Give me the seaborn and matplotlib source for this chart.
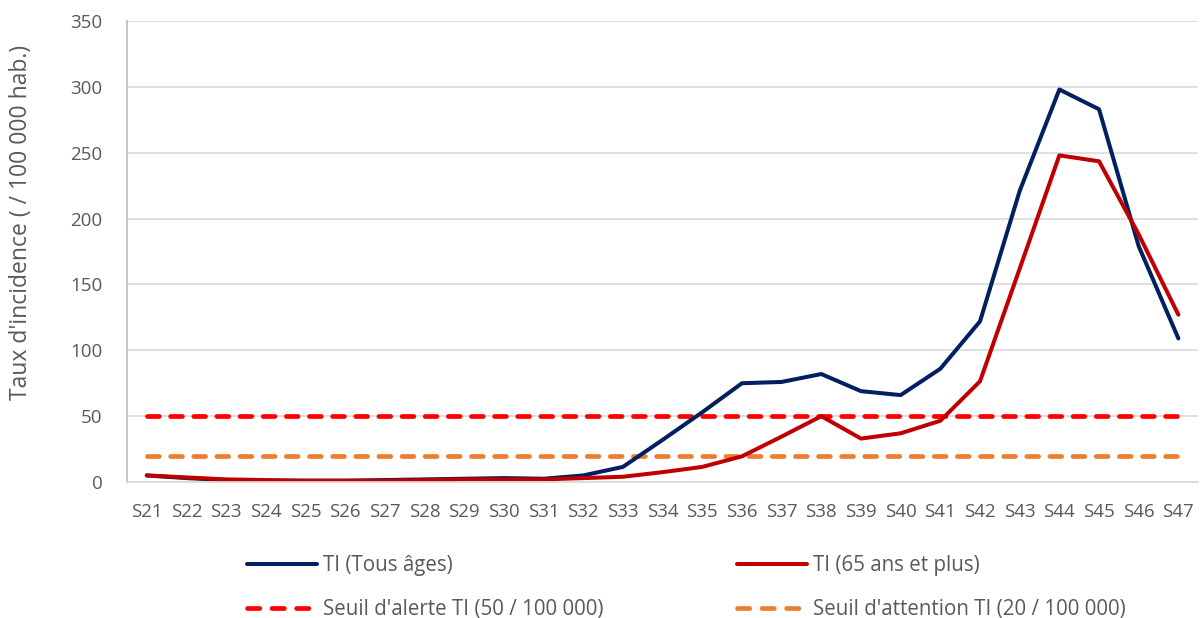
import matplotlib
matplotlib.use("Agg")

import matplotlib.pyplot as plt
import seaborn as sns
import pandas as pd

# semaines S21 -> S47
semaines = [f"S{i}" for i in range(21, 48)]

ti_tous = [5, 3, 1.5, 1, 1, 1, 1.5, 2, 2.5, 3, 2.5, 5, 11.5,
           32, 53, 75, 76, 82, 69, 66, 86, 122, 221, 298, 283, 179, 109]
ti_65 = [5, 3.5, 2, 1.5, 1, 1, 1, 1.5, 2, 2, 2, 3, 4,
         7.5, 11.5, 19.5, 34.5, 50, 33, 37, 46.5, 76.5, 162, 248, 243.5, 188, 127]
seuil_alerte = [50] * len(semaines)
seuil_attention = [20] * len(semaines)

df = pd.DataFrame({
    "semaine": semaines,
    "tous": ti_tous,
    "s65": ti_65,
    "alerte": seuil_alerte,
    "attention": seuil_attention,
})

sns.set_theme(style="white")
plt.rcParams["font.family"] = ["Open Sans", "DejaVu Sans"]

GRIS = "#595959"

fig = plt.figure(figsize=(12.01, 6.18), dpi=100)
ax = fig.add_axes([0.1057, 0.22, 0.892, 0.746])

sns.lineplot(data=df, x="semaine", y="alerte", ax=ax, color="#FF0000", lw=3.4,
             label="Seuil d'alerte TI (50 / 100 000)")
sns.lineplot(data=df, x="semaine", y="attention", ax=ax, color="#ED7D31", lw=3.4,
             label="Seuil d'attention TI (20 / 100 000)")
sns.lineplot(data=df, x="semaine", y="tous", ax=ax, color="#002060", lw=2.9,
             label="TI (Tous âges)")
sns.lineplot(data=df, x="semaine", y="s65", ax=ax, color="#C00000", lw=2.9,
             label="TI (65 ans et plus)")

# pointillés arrondis façon Excel
for ln in ax.lines[:2]:
    ln.set_dashes([2.5, 2.4])
    ln.set_dash_capstyle("round")

ax.set_xlim(-0.5, len(semaines) - 0.5)
ax.set_ylim(0, 350)
ax.set_yticks(range(0, 351, 50))
ax.grid(axis="y", color="#D9D9D9", lw=1.2)
ax.set_axisbelow(True)

for s in ["top", "right"]:
    ax.spines[s].set_visible(False)
ax.spines["left"].set_color("#BFBFBF")
ax.spines["bottom"].set_color("#D9D9D9")

ax.tick_params(axis="both", labelsize=13.5, colors=GRIS, length=0)
ax.tick_params(axis="y", pad=17.5)
ax.tick_params(axis="x", pad=15)
ax.set_xlabel("")
ax.set_ylabel("Taux d'incidence ( / 100 000 hab.)", fontsize=16.5, color=GRIS)
ax.yaxis.set_label_coords(-0.0878, 0.564)

handles, labels = ax.get_legend_handles_labels()
ax.get_legend().remove()
order = [2, 0, 3, 1]
leg = fig.legend([handles[i] for i in order], [labels[i] for i in order],
                 loc="upper left", bbox_to_anchor=(0.197, 0.118), ncol=2, frameon=False,
                 fontsize=14.8, labelcolor=GRIS, handlelength=3.4, handletextpad=0.3,
                 columnspacing=6.5, labelspacing=1.1, borderpad=0)
# trois tirets dans les symboles de légende
for ln in leg.get_lines():
    if ln.get_linestyle() != "-":
        ln.set_dashes([2.6, 2.6])

fig.savefig("out.png", dpi=100)
